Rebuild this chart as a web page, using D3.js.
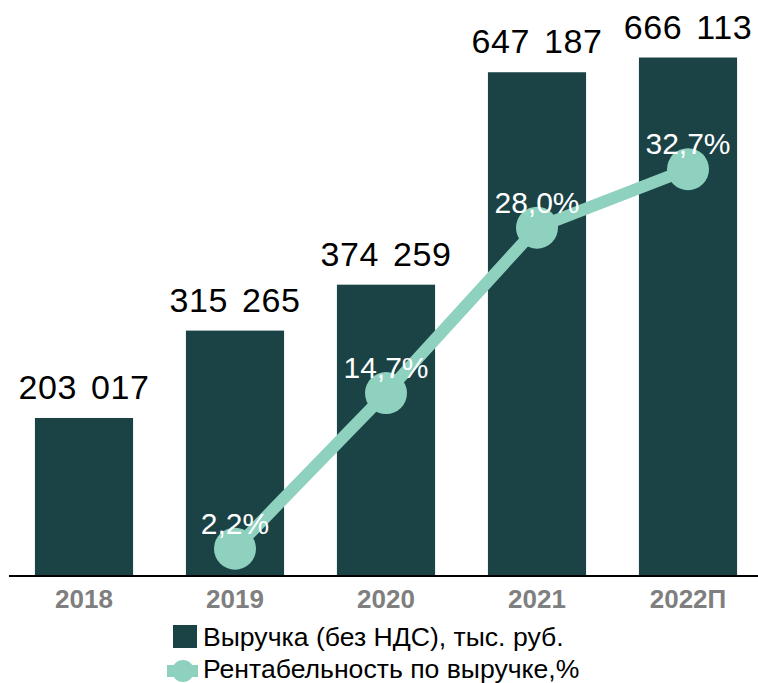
<!DOCTYPE html>
<html>
<head>
<meta charset="utf-8">
<script src="https://cdn.jsdelivr.net/npm/d3@7"></script>
<style>
  body { margin: 0; background: #fff; }
  svg { display: block; font-family: "Liberation Sans", Arial, sans-serif; }
</style>
</head>
<body>
<script>
const years = ["2018", "2019", "2020", "2021", "2022П"];
const revenue = [203017, 315265, 374259, 647187, 666113];
const revenueLabels = ["203 017", "315 265", "374 259", "647 187", "666 113"];
const marginYears = ["2019", "2020", "2021", "2022П"];
const margin = [2.2, 14.7, 28.0, 32.7];
const marginLabels = ["2,2%", "14,7%", "28,0%", "32,7%"];

const W = 758, H = 683;
const barColor = "#1b4346";
const lineColor = "#8fd1bf";

const svg = d3.select("body").append("svg").attr("width", W).attr("height", H);

const x = d3.scaleBand().domain(years).range([8.5, 763.5])
  .paddingInner(0.35).paddingOuter(0.175);
const y = d3.scaleLinear().domain([0, 740000]).range([576, 0]);
const y2 = d3.scaleLinear().domain([0, 46.3]).range([576, 0]);

// bars
svg.selectAll("rect.bar")
  .data(revenue)
  .enter()
  .append("rect")
  .attr("class", "bar")
  .attr("x", (d, i) => x(years[i]))
  .attr("y", d => y(d))
  .attr("width", x.bandwidth())
  .attr("height", d => y(0) - y(d))
  .attr("fill", barColor);

// bar labels
svg.selectAll("text.val")
  .data(revenue)
  .enter()
  .append("text")
  .attr("class", "val")
  .attr("x", (d, i) => x(years[i]) + x.bandwidth() / 2)
  .attr("y", d => y(d) - 19)
  .attr("text-anchor", "middle")
  .attr("font-size", 34)
  .attr("letter-spacing", 0.6)
  .attr("word-spacing", 4)
  .attr("fill", "#000")
  .text((d, i) => revenueLabels[i]);

// x axis
const xAxis = svg.append("g")
  .attr("transform", "translate(0,576)")
  .call(d3.axisBottom(x).tickSize(0).tickPadding(14));
xAxis.select(".domain").attr("d", "M9,0H758").attr("stroke", "#000").attr("stroke-width", 2);
xAxis.selectAll("text")
  .attr("font-size", 26)
  .attr("font-weight", "bold")
  .attr("font-family", "Liberation Sans, Arial, sans-serif")
  .attr("fill", "#7f7f7f");

// line
const line = d3.line()
  .x((d, i) => x(marginYears[i]) + x.bandwidth() / 2)
  .y(d => y2(d));

svg.append("path")
  .datum(margin)
  .attr("d", line)
  .attr("fill", "none")
  .attr("stroke", lineColor)
  .attr("stroke-width", 12);

svg.selectAll("circle.pt")
  .data(margin)
  .enter()
  .append("circle")
  .attr("class", "pt")
  .attr("cx", (d, i) => x(marginYears[i]) + x.bandwidth() / 2)
  .attr("cy", d => y2(d))
  .attr("r", 21)
  .attr("fill", lineColor);

svg.selectAll("text.pct")
  .data(margin)
  .enter()
  .append("text")
  .attr("class", "pct")
  .attr("x", (d, i) => x(marginYears[i]) + x.bandwidth() / 2)
  .attr("y", d => y2(d) - 15)
  .attr("text-anchor", "middle")
  .attr("font-size", 30)
  .attr("fill", "#fff")
  .text((d, i) => marginLabels[i]);

// legend
const lg = svg.append("g");
lg.append("rect")
  .attr("x", 173).attr("y", 625)
  .attr("width", 24).attr("height", 23)
  .attr("fill", barColor);
lg.append("text")
  .attr("x", 203).attr("y", 646)
  .attr("font-size", 26.6)
  .attr("fill", "#000")
  .text("Выручка (без НДС), тыс. руб.");

lg.append("line")
  .attr("x1", 167).attr("x2", 198)
  .attr("y1", 671).attr("y2", 671)
  .attr("stroke", lineColor).attr("stroke-width", 12);
lg.append("circle")
  .attr("cx", 183).attr("cy", 671).attr("r", 11)
  .attr("fill", lineColor);
lg.append("text")
  .attr("x", 203).attr("y", 678)
  .attr("font-size", 26.6)
  .attr("fill", "#000")
  .text("Рентабельность по выручке,%");
</script>
</body>
</html>
